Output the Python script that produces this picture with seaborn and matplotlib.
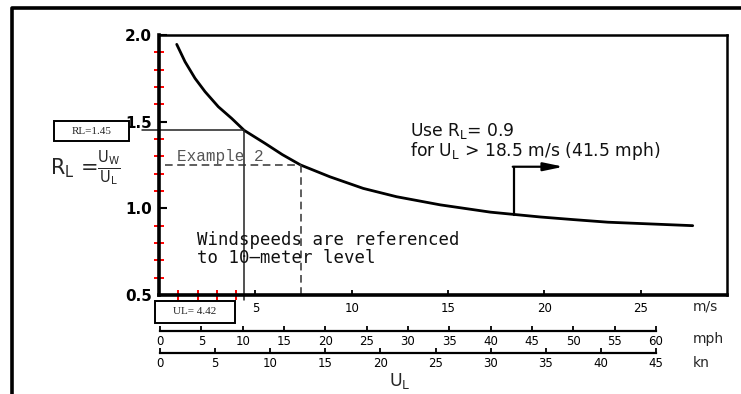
import matplotlib
matplotlib.use("Agg")
import matplotlib.pyplot as plt
from matplotlib.lines import Line2D
from matplotlib.patches import Rectangle
from matplotlib.ticker import FixedLocator, NullFormatter
import seaborn as sns
import pandas as pd

# ---- data ----
ul_ms = [0.92, 1.35, 1.87, 2.39, 3.08, 3.77, 4.42, 5.5, 6.4, 7.35, 8.87, 10.6, 12.33,
         14.6, 17.2, 18.5, 19.8, 21.5, 23.3, 25.5, 27.7]
rl = [1.946, 1.846, 1.75, 1.673, 1.586, 1.519, 1.45, 1.375, 1.31, 1.25, 1.182, 1.115, 1.067,
      1.02, 0.978, 0.964, 0.95, 0.935, 0.92, 0.91, 0.90]
ms_ticks = [5, 10, 15, 20, 25]
ms_minor = [1, 2, 3, 4]
y_ticks = [0.5, 1.0, 1.5, 2.0]
y_minor = [0.6, 0.7, 0.8, 0.9, 1.1, 1.2, 1.3, 1.4, 1.6, 1.7, 1.8, 1.9]
mph_ticks = list(range(0, 65, 5))
kn_ticks = list(range(0, 50, 5))
example1 = (4.42, 1.45)
example2 = (7.35, 1.25)
note_x, note_y = 18.4, 0.964

df = pd.DataFrame({"UL": ul_ms, "RL": rl})

sns.set_style("white")
plt.rcParams["font.family"] = ["DejaVu Sans"]
plt.rcParams["mathtext.default"] = "regular"

W, H = 741, 394
fig = plt.figure(figsize=(W / 100, H / 100), dpi=100)
fig.patch.set_facecolor("white")

def fx(px):
    return px / W

def fy(py):
    return 1 - py / H

ax = fig.add_axes([fx(159), fy(295), (727 - 159) / W, (295 - 35) / H])
sns.lineplot(data=df, x="UL", y="RL", ax=ax, color="black", lw=2.0)
ax.set_xlim(0, 29.48)
ax.set_ylim(0.5, 2.0)
ax.set_xlabel("")
ax.set_ylabel("")
for s in ["left", "bottom"]:
    ax.spines[s].set_linewidth(2.6)
for s in ["top", "right"]:
    ax.spines[s].set_linewidth(1.8)
for s in ax.spines.values():
    s.set_color("black")

ax.set_yticks(y_ticks)
ax.set_yticklabels([f"{v:.1f}" for v in y_ticks], fontsize=11, fontweight="semibold")
ax.set_xticks(ms_ticks)
ax.set_xticklabels([str(v) for v in ms_ticks], fontsize=8.5)
ax.tick_params(axis="both", which="both", bottom=True, left=True, top=False, right=False)
ax.tick_params(axis="y", which="major", direction="in", length=6, width=1.5, pad=5, colors="black")
ax.tick_params(axis="x", which="major", direction="in", length=3.5, width=1.3, pad=5, colors="black")
ax.yaxis.set_minor_locator(FixedLocator(y_minor))
ax.xaxis.set_minor_locator(FixedLocator(ms_minor))
ax.yaxis.set_minor_formatter(NullFormatter())
ax.xaxis.set_minor_formatter(NullFormatter())
ax.tick_params(axis="both", which="minor", direction="inout", length=7, width=1.4, color="red")

# example 1 (solid)
ax.plot([-0.9, example1[0]], [example1[1], example1[1]], color="#222222", lw=1.1, clip_on=False)
ax.plot([example1[0], example1[0]], [example1[1], 0.47], color="#222222", lw=1.1, clip_on=False)
# example 2 (dashed)
ax.plot([0.3, example2[0]], [example2[1], example2[1]], color="#333333", lw=1.1, ls=(0, (5, 3)))
ax.plot([example2[0], example2[0]], [example2[1], 0.5], color="#333333", lw=1.1, ls=(0, (5, 3)))
ax.text(3.2, 1.3, "Example 2", family="Liberation Mono", fontsize=11.5, color="#555555",
        ha="center", va="center")

ax.text(1.95, 0.765, "Windspeeds are referenced\nto 10\u2013meter level", family="DejaVu Sans Mono",
        fontsize=12.5, ha="left", va="center", linespacing=0.95, color="#111111")

ax.text(13.05, 1.385, "Use R$_L$= 0.9\nfor U$_L$ > 18.5 m/s (41.5 mph)",
        fontsize=12.3, ha="left", va="center", linespacing=0.92, color="#111111")

# note arrow
ax.plot([note_x, note_x], [note_y, 1.24], color="black", lw=1.6)
ax.annotate("", xy=(21.0, 1.24), xytext=(note_x - 0.04, 1.24),
            arrowprops=dict(arrowstyle="-|>,head_length=1.2,head_width=0.25", color="black", lw=1.6,
                            shrinkA=0, shrinkB=0))

# secondary unit axes
def unit_axis(py, ticks, maxval):
    a = fig.add_axes([fx(160), fy(py), (727 - 160) / W, 0.0001])
    a.set_xlim(0, maxval * 567 / 496)
    a.set_yticks([])
    for s in ["left", "right", "top"]:
        a.spines[s].set_visible(False)
    a.spines["bottom"].set_bounds(0, maxval)
    a.spines["bottom"].set_linewidth(1.6)
    a.spines["bottom"].set_color("black")
    a.set_xticks(ticks)
    a.set_xticklabels([str(t) for t in ticks], fontsize=8.5)
    a.tick_params(axis="x", bottom=True, direction="in", length=3.5, width=1.3, pad=3, colors="black")
    a.patch.set_alpha(0)
    return a

unit_axis(331, mph_ticks, 60)
unit_axis(353, kn_ticks, 45)

fig.text(fx(693), fy(307), "m/s", fontsize=10, ha="left", va="center")
fig.text(fx(693), fy(339), "mph", fontsize=10, ha="left", va="center")
fig.text(fx(693), fy(363), "kn", fontsize=10, ha="left", va="center")
fig.text(fx(400), fy(381), "U$_L$", fontsize=12.5, ha="center", va="center")

fig.text(fx(85), fy(168), r"R$_L$ =$\frac{U_W}{U_L}$", fontsize=15, ha="center", va="center")

# value boxes
for (x0, y0, x1, y1, label) in [(54, 121, 129, 141, "RL=1.45"), (155, 301, 235, 323, "UL= 4.42")]:
    fig.add_artist(Rectangle((fx(x0), fy(y1)), (x1 - x0) / W, (y1 - y0) / H,
                             transform=fig.transFigure, fill=True, facecolor="white",
                             edgecolor="black", lw=1.4))
    fig.text(fx((x0 + x1) / 2), fy((y0 + y1) / 2), label, family="Liberation Serif",
             fontsize=8, ha="center", va="center")

# outer frame
fig.add_artist(Line2D([fx(12), fx(12), 1.0], [0, fy(8), fy(8)], transform=fig.transFigure,
                      color="black", lw=2.6))

fig.savefig("out.png", dpi=100)
